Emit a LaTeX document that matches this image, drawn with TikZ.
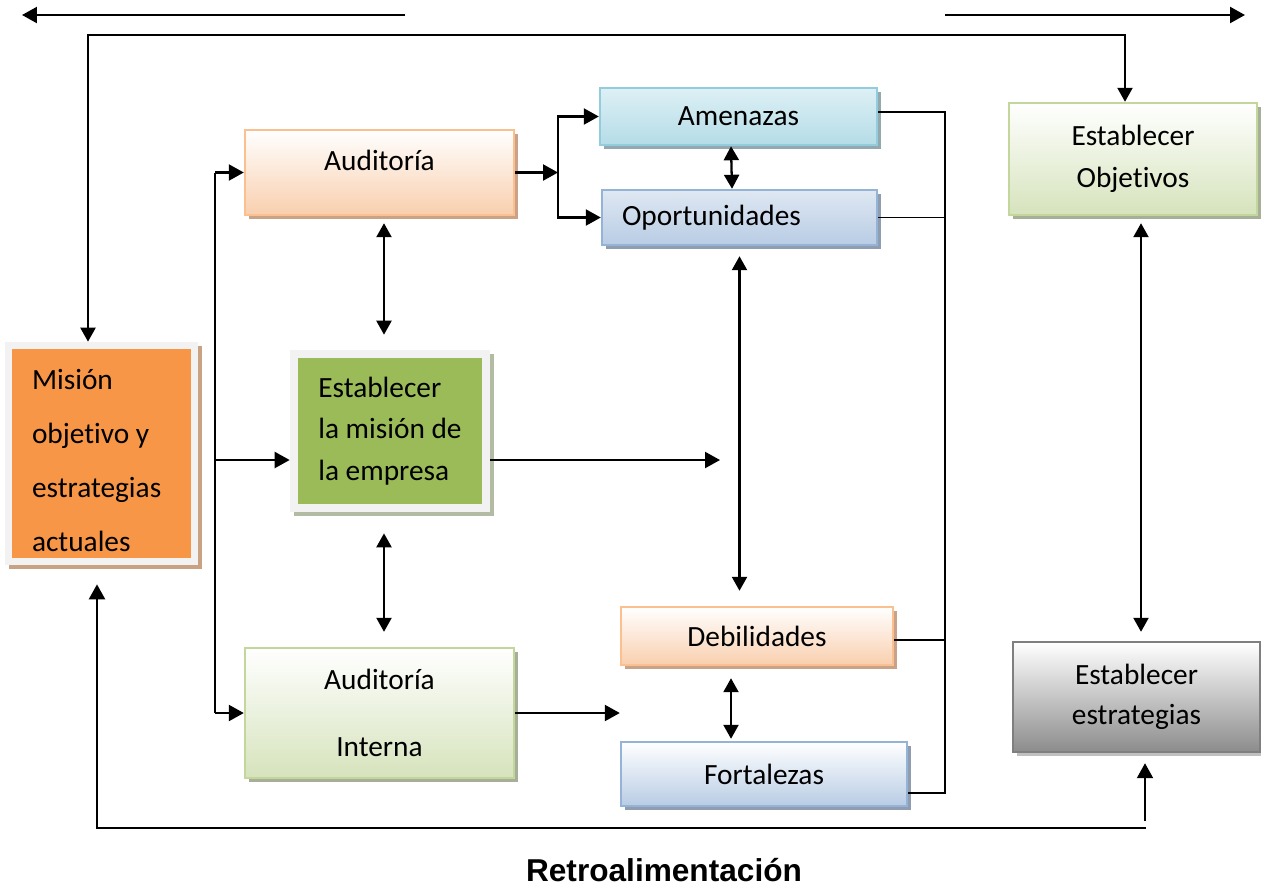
\documentclass[tikz,border=0pt]{standalone}
\usepackage{fontspec}
\setmainfont{Carlito}[Ligatures=NoCommon]
\newfontfamily\arialfont{Liberation Sans}
\usetikzlibrary{arrows.meta,shadows}

\definecolor{naranjafill}{HTML}{F79646}
\definecolor{naranjasom}{HTML}{C9A284}
\definecolor{verdefill}{HTML}{9BBB59}
\definecolor{verdesom}{HTML}{B3BCA3}
\definecolor{marco}{HTML}{F2F2F2}
\definecolor{durazbord}{HTML}{FAC090}
\definecolor{durazfill}{HTML}{F9CFAE}
\definecolor{durazsom}{HTML}{C9A287}
\definecolor{cianbord}{HTML}{93CDDD}
\definecolor{ciantop}{HTML}{DDF0F5}
\definecolor{cianfill}{HTML}{B5DCE7}
\definecolor{ciansom}{HTML}{93A8AF}
\definecolor{azulbord}{HTML}{95B3D7}
\definecolor{azulfill}{HTML}{B8CCE4}
\definecolor{azulsom}{HTML}{8F9DB1}
\definecolor{verdebord}{HTML}{C3D69B}
\definecolor{verdeclaro}{HTML}{D6E3BC}
\definecolor{verdeclsom}{HTML}{A7AF98}
\definecolor{grisbord}{HTML}{7F7F7F}
\definecolor{grisfill}{HTML}{8C8C8C}
\definecolor{grissom}{HTML}{C0C0C0}

\begin{document}
\begin{tikzpicture}[x=0.02cm,y=-0.02cm,
    every node/.style={font=\fontsize{16.7}{23.6}\selectfont},
    caja/.style={draw,line width=1.4pt,inner sep=0pt,align=center},
    sombra/.style={drop shadow={shadow xshift=0.08cm,shadow yshift=-0.08cm,fill=#1,opacity=1}},
    durazno/.style={caja,draw=durazbord,top color=white,bottom color=durazfill,sombra=durazsom},
    cian/.style={caja,draw=cianbord,top color=ciantop,bottom color=cianfill,sombra=ciansom},
    azul/.style={caja,draw=azulbord,top color=white,bottom color=azulfill,sombra=azulsom},
    verde/.style={caja,draw=verdebord,top color=white,bottom color=verdeclaro,sombra=verdeclsom},
    gris/.style={caja,draw=grisbord,top color=white,bottom color=grisfill,sombra=grissom},
    marcada/.style n args={3}{fill=marco,inner sep=0pt,align=left,sombra=#2,
      path picture={\fill[#1] ([shift={(#3,-#3)}]path picture bounding box.north west)
        rectangle ([shift={(-#3,#3)}]path picture bounding box.south east);}},
    flecha/.style={line width=1.3pt,-{Triangle[width=0.32cm,length=0.3cm]}},
    doble/.style={line width=1.3pt,{Triangle[width=0.3cm,length=0.28cm]}-{Triangle[width=0.3cm,length=0.28cm]}},
    linea/.style={line width=1.3pt},
    bus/.style={line width=1pt}]
  \useasboundingbox (0,0) rectangle (1261,887);

  % cajas
  \node[marcada={naranjafill}{naranjasom}{0.13cm},minimum width=3.86cm,minimum height=4.46cm,
    text width=2.78cm,inner xsep=0.54cm,text height=0.68cm,align=flush left,
    font=\fontsize{16.7}{30.7}\selectfont] (mision) at (101.5,453.5)
    {Misión\\objetivo y\\estrategias\\actuales};
  \node[marcada={verdefill}{verdesom}{0.16cm},minimum width=4.0cm,minimum height=3.24cm]
    (emp) at (390,431) {Establecer\\la misión de\\la empresa};
  \node[durazno,minimum width=5.38cm,minimum height=1.70cm,text depth=0.5cm] (aud) at (379.5,172.5) {Auditoría};
  \node[cian,minimum width=5.54cm,minimum height=1.14cm] (amen) at (738.5,116.5) {Amenazas};
  \node[azul,top color=azulfill!45,minimum width=5.50cm,minimum height=1.10cm,
    text width=4.7cm,inner xsep=0.4cm,align=flush left] (opor) at (739.5,217.5) {Oportunidades};
  \node[durazno,minimum width=5.44cm,minimum height=1.16cm] (debil) at (757,636) {Debilidades};
  \node[azul,minimum width=5.72cm,minimum height=1.28cm] (fort) at (764,774) {Fortalezas};
  \node[verde,minimum width=5.38cm,minimum height=2.60cm,font=\fontsize{16.7}{38.1}\selectfont]
    (audint) at (379.5,713) {Auditoría\\Interna};
  \node[verde,minimum width=4.96cm,minimum height=2.24cm] (obj) at (1133,159) {Establecer\\Objetivos};
  \node[gris,minimum width=4.94cm,minimum height=2.20cm,font=\fontsize{16.7}{22.8}\selectfont]
    (estr) at (1136.5,697) {Establecer\\estrategias};
  \node[font=\arialfont\bfseries\fontsize{18}{22}\selectfont] (retro) at (664,870) {Retroalimentación};

  % flechas superiores
  \coordinate (izqA) at (405,15);
  \coordinate (izqB) at (22,15);
  \coordinate (derA) at (945,15);
  \coordinate (derB) at (1245,15);
  \draw[flecha] (izqA) -- (izqB);
  \draw[flecha] (derA) -- (derB);
  \coordinate (sup1) at (88,35);
  \coordinate (sup2) at (1125,35);
  \draw[doble] (sup1 |- mision.north) -- (sup1) -- (sup2) -- (sup2 |- obj.north);

  % bus izquierdo
  \coordinate (busL) at (215,460);
  \draw[linea] (busL |- aud.west) -- (busL |- audint.west);
  \draw[flecha] (busL |- aud.west) -- (aud.west);
  \draw[flecha] (busL) -- (busL -| emp.west);
  \draw[flecha] (busL |- audint.west) -- (audint.west);

  % auditoria externa
  \coordinate (div) at (558,172.5);
  \draw[flecha] (aud.east) -- (div);
  \draw[flecha] (div) |- (amen.west);
  \draw[flecha] (div) |- (opor.west);
  \draw[doble] ([xshift=-0.15cm]amen.south) -- ([xshift=-0.15cm]opor.north);

  % centro
  \draw[doble,shorten <=0.14cm,shorten >=0.3cm] ([xshift=0.09cm]aud.south) -- ([xshift=0.09cm]aud.south |- emp.north);
  \draw[doble,shorten <=0.42cm,shorten >=0.3cm] ([xshift=0.09cm]aud.south |- emp.south) -- ([xshift=0.09cm]aud.south |- audint.north);
  \coordinate (centro) at (720,460);
  \draw[flecha] (centro -| emp.east) -- (centro);
  \draw[doble,shorten <=0.2cm,shorten >=0.3cm] (opor.south) -- (opor.south |- debil.north);
  \draw[doble,shorten <=0.24cm,shorten >=0.04cm] ([xshift=-0.52cm]debil.south) -- ([xshift=-0.52cm]debil.south |- fort.north);
  \draw[flecha] (audint.east) -- (audint.east -| fort.west);

  % bus derecho
  \coordinate (busR) at (945,0);
  \coordinate (amenR) at ([yshift=0.09cm]amen.east);
  \coordinate (debilR) at ([yshift=-0.08cm]debil.east);
  \coordinate (fortR) at ([yshift=-0.38cm]fort.east);
  \draw[bus] (amenR) -| (busR |- fortR) -- (fortR);
  \draw[bus] (opor.east) -- (opor.east -| busR);
  \draw[bus] (debilR) -- (debilR -| busR);

  % objetivos y estrategias
  \draw[doble,shorten <=0.14cm,shorten >=0.18cm] ([xshift=0.16cm]obj.south) -- ([xshift=0.16cm]obj.south |- estr.north);

  % retroalimentacion
  \coordinate (infD) at (1145,821);
  \draw[flecha,shorten >=0.2cm] (infD) -- (infD |- estr.south);
  \coordinate (retD) at (1146,828);
  \coordinate (retI) at (97,828);
  \draw[flecha,shorten >=0.38cm] (retD) -- (retI) -- (retI |- mision.south);
\end{tikzpicture}
\end{document}
